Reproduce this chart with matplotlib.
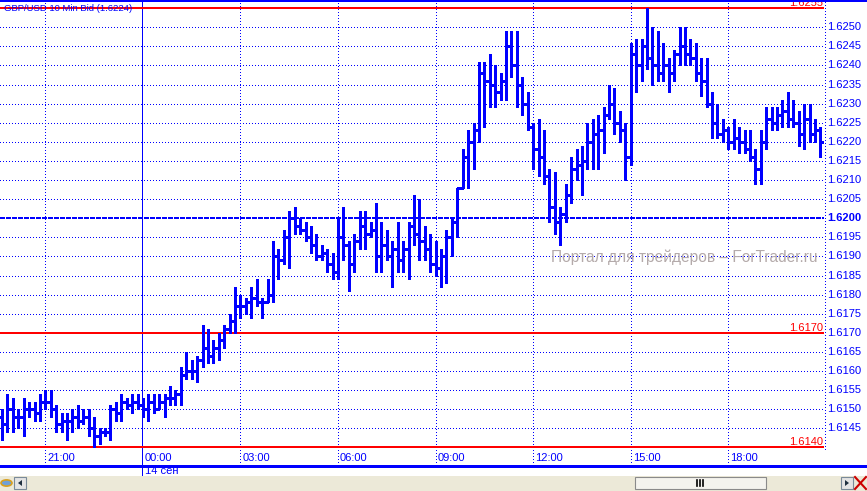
import matplotlib
matplotlib.use('Agg')
import matplotlib.pyplot as plt
from matplotlib.patches import Rectangle, Circle, Polygon
from matplotlib.lines import Line2D

W, H = 867, 491
BLUE = '#0000ff'
RED = '#ff0000'
FONT = 'Liberation Sans'

# GBP/USD, 10 min bars, first bar 19:40
highs = [1.6150, 1.6154, 1.6153, 1.6150, 1.6153, 1.6152, 1.6152, 1.6154, 1.6155, 1.6155,
         1.6151, 1.6149, 1.6149, 1.6150, 1.6151, 1.6150, 1.6150, 1.6148, 1.6145, 1.6145,
         1.6151, 1.6152, 1.6154, 1.6153, 1.6154, 1.6154, 1.6153, 1.6154, 1.6154, 1.6154,
         1.6154, 1.6156, 1.6155, 1.6161, 1.6165, 1.6163, 1.6164, 1.6172, 1.6171, 1.6168,
         1.6170, 1.6172, 1.6175, 1.6182, 1.6180, 1.6179, 1.6182, 1.6184, 1.6179, 1.6184,
         1.6194, 1.6192, 1.6197, 1.6202, 1.6203, 1.6200, 1.6199, 1.6198, 1.6196, 1.6193,
         1.6192, 1.6191, 1.6200, 1.6203, 1.6194, 1.6196, 1.6202, 1.6202, 1.6199, 1.6204,
         1.6199, 1.6197, 1.6194, 1.6199, 1.6194, 1.6199, 1.6206, 1.6205, 1.6198, 1.6196,
         1.6194, 1.6192, 1.6197, 1.6200, 1.6208, 1.6218, 1.6223, 1.6225, 1.6241, 1.6241,
         1.6243, 1.6240, 1.6238, 1.6249, 1.6249, 1.6249, 1.6237, 1.6233, 1.6225, 1.6226,
         1.6223, 1.6213, 1.6212, 1.6203, 1.6209, 1.6216, 1.6218, 1.6219, 1.6225, 1.6226,
         1.6227, 1.6229, 1.6235, 1.6234, 1.6228, 1.6225, 1.6246, 1.6247, 1.6247, 1.6255,
         1.6250, 1.6249, 1.6246, 1.6242, 1.6244, 1.6250, 1.6250, 1.6247, 1.6246, 1.6242,
         1.6242, 1.6233, 1.6230, 1.6226, 1.6224, 1.6226, 1.6224, 1.6223, 1.6223, 1.6218,
         1.6223, 1.6229, 1.6229, 1.6229, 1.6231, 1.6233, 1.6231, 1.6228, 1.6230, 1.6230,
         1.6226, 1.6224]
lows = [1.6142, 1.6144, 1.6144, 1.6145, 1.6143, 1.6148, 1.6147, 1.6147, 1.6150, 1.6148,
        1.6144, 1.6144, 1.6142, 1.6144, 1.6145, 1.6146, 1.6143, 1.6140, 1.6141, 1.6143,
        1.6142, 1.6147, 1.6147, 1.6150, 1.6149, 1.6150, 1.6148, 1.6147, 1.6149, 1.6150,
        1.6148, 1.6151, 1.6151, 1.6151, 1.6158, 1.6158, 1.6157, 1.6161, 1.6162, 1.6162,
        1.6163, 1.6166, 1.6170, 1.6170, 1.6174, 1.6175, 1.6174, 1.6177, 1.6174, 1.6178,
        1.6178, 1.6184, 1.6188, 1.6187, 1.6196, 1.6196, 1.6194, 1.6191, 1.6189, 1.6189,
        1.6186, 1.6184, 1.6184, 1.6189, 1.6181, 1.6186, 1.6192, 1.6192, 1.6195, 1.6186,
        1.6186, 1.6189, 1.6182, 1.6186, 1.6186, 1.6184, 1.6193, 1.6189, 1.6189, 1.6186,
        1.6185, 1.6182, 1.6183, 1.6190, 1.6195, 1.6208, 1.6208, 1.6213, 1.6220, 1.6224,
        1.6229, 1.6229, 1.6231, 1.6231, 1.6237, 1.6229, 1.6227, 1.6223, 1.6213, 1.6211,
        1.6209, 1.6199, 1.6196, 1.6193, 1.6199, 1.6204, 1.6210, 1.6206, 1.6213, 1.6213,
        1.6213, 1.6217, 1.6226, 1.6222, 1.6220, 1.6210, 1.6214, 1.6233, 1.6236, 1.6239,
        1.6235, 1.6236, 1.6236, 1.6233, 1.6236, 1.6240, 1.6240, 1.6240, 1.6236, 1.6232,
        1.6229, 1.6221, 1.6221, 1.6220, 1.6218, 1.6218, 1.6217, 1.6217, 1.6215, 1.6209,
        1.6209, 1.6218, 1.6223, 1.6223, 1.6224, 1.6224, 1.6224, 1.6219, 1.6218, 1.6220,
        1.6220, 1.6216]
opens = [1.6148, 1.6146, 1.6150, 1.6148, 1.6148, 1.6150, 1.6150, 1.6149, 1.6152, 1.6152,
         1.6150, 1.6146, 1.6147, 1.6147, 1.6148, 1.6147, 1.6148, 1.6145, 1.6143, 1.6144,
         1.6144, 1.6150, 1.6149, 1.6152, 1.6151, 1.6152, 1.6151, 1.6150, 1.6152, 1.6150,
         1.6152, 1.6153, 1.6153, 1.6154, 1.6159, 1.6160, 1.6160, 1.6163, 1.6166, 1.6164,
         1.6166, 1.6168, 1.6171, 1.6173, 1.6177, 1.6177, 1.6178, 1.6179, 1.6178, 1.6178,
         1.6180, 1.6190, 1.6189, 1.6195, 1.6200, 1.6198, 1.6197, 1.6195, 1.6193, 1.6190,
         1.6191, 1.6188, 1.6186, 1.6195, 1.6193, 1.6188, 1.6194, 1.6198, 1.6196, 1.6197,
         1.6190, 1.6193, 1.6190, 1.6192, 1.6189, 1.6192, 1.6198, 1.6196, 1.6194, 1.6192,
         1.6188, 1.6187, 1.6190, 1.6195, 1.6199, 1.6208, 1.6216, 1.6220, 1.6223, 1.6238,
         1.6236, 1.6235, 1.6233, 1.6236, 1.6245, 1.6240, 1.6235, 1.6230, 1.6224, 1.6218,
         1.6216, 1.6211, 1.6203, 1.6199, 1.6201, 1.6206, 1.6213, 1.6214, 1.6215, 1.6220,
         1.6222, 1.6223, 1.6227, 1.6230, 1.6225, 1.6223, 1.6216, 1.6243, 1.6240, 1.6245,
         1.6242, 1.6240, 1.6238, 1.6240, 1.6238, 1.6243, 1.6245, 1.6243, 1.6242, 1.6238,
         1.6236, 1.6230, 1.6225, 1.6222, 1.6223, 1.6220, 1.6221, 1.6220, 1.6218, 1.6216,
         1.6213, 1.6220, 1.6226, 1.6225, 1.6227, 1.6228, 1.6226, 1.6225, 1.6222, 1.6226,
         1.6222, 1.6223]
closes = [1.6146, 1.6150, 1.6148, 1.6148, 1.6150, 1.6150, 1.6149, 1.6152, 1.6152, 1.6150,
          1.6146, 1.6147, 1.6147, 1.6148, 1.6147, 1.6148, 1.6145, 1.6143, 1.6144, 1.6144,
          1.6150, 1.6149, 1.6152, 1.6151, 1.6152, 1.6151, 1.6150, 1.6152, 1.6150, 1.6152,
          1.6153, 1.6153, 1.6154, 1.6159, 1.6160, 1.6160, 1.6163, 1.6166, 1.6164, 1.6166,
          1.6168, 1.6171, 1.6173, 1.6177, 1.6177, 1.6178, 1.6179, 1.6178, 1.6178, 1.6180,
          1.6190, 1.6189, 1.6195, 1.6200, 1.6198, 1.6197, 1.6195, 1.6193, 1.6190, 1.6191,
          1.6188, 1.6186, 1.6195, 1.6193, 1.6188, 1.6194, 1.6198, 1.6196, 1.6197, 1.6190,
          1.6193, 1.6190, 1.6192, 1.6189, 1.6192, 1.6198, 1.6196, 1.6194, 1.6192, 1.6188,
          1.6187, 1.6190, 1.6195, 1.6199, 1.6208, 1.6216, 1.6220, 1.6223, 1.6238, 1.6236,
          1.6235, 1.6233, 1.6236, 1.6245, 1.6240, 1.6235, 1.6230, 1.6224, 1.6218, 1.6216,
          1.6211, 1.6203, 1.6199, 1.6201, 1.6206, 1.6213, 1.6214, 1.6215, 1.6220, 1.6222,
          1.6223, 1.6227, 1.6230, 1.6225, 1.6223, 1.6216, 1.6243, 1.6240, 1.6245, 1.6242,
          1.6240, 1.6238, 1.6240, 1.6238, 1.6243, 1.6245, 1.6243, 1.6242, 1.6238, 1.6236,
          1.6230, 1.6225, 1.6222, 1.6223, 1.6220, 1.6221, 1.6220, 1.6218, 1.6216, 1.6213,
          1.6220, 1.6226, 1.6225, 1.6227, 1.6228, 1.6226, 1.6225, 1.6222, 1.6226, 1.6222,
          1.6223, 1.6220]

time_labels = ['21:00', '00:00', '03:00', '06:00', '09:00', '12:00', '15:00', '18:00']
time_bars = [8, 26, 44, 62, 80, 98, 116, 134]
day_bar = 26
day_label = '14 сен'

price_labels = ['1.6145', '1.6150', '1.6155', '1.6160', '1.6165', '1.6170', '1.6175',
                '1.6180', '1.6185', '1.6190', '1.6195', '1.6200', '1.6205', '1.6210',
                '1.6215', '1.6220', '1.6225', '1.6230', '1.6235', '1.6240', '1.6245',
                '1.6250']
red_levels = [1.6255, 1.6170, 1.6140]
mid_level = 1.6200
title = 'GBP/USD 10 Min Bid (1.6224)'
watermark = 'Портал для трейдеров – ForTrader.ru'

# layout in pixels
ax_left, ax_right, ax_top, ax_bot = 0, 824, 2, 465
bar_px = 5.42
first_px = 2
y_top_price, y_bot_price = 1.625662, 1.613539

fig = plt.figure(figsize=(W / 100, H / 100), dpi=100)
fig.patch.set_facecolor('white')
ax = fig.add_axes([ax_left / W, 1 - ax_bot / H, (ax_right - ax_left) / W, (ax_bot - ax_top) / H])
ax.set_xlim(-first_px / bar_px, (ax_right - first_px) / bar_px)
ax.set_ylim(y_bot_price, y_top_price)
ax.axis('off')

dot = (0, (1, 2.2))

# horizontal grid
for lab in price_labels:
    p = float(lab)
    if abs(p - mid_level) < 1e-6 or any(abs(p - r) < 1e-6 for r in red_levels):
        continue
    ax.axhline(p, color=BLUE, lw=0.72, ls=dot, antialiased=False, zorder=1)
# vertical grid
gb = (ax_bot - 462) / (ax_bot - ax_top)
for b in time_bars:
    if b == day_bar:
        continue
    ax.axvline(b, ymin=gb, ymax=1, color=BLUE, lw=0.72, ls=dot, antialiased=False, zorder=1)
# day separator
ax.axvline(day_bar - 0.1, ymin=-(476 - ax_bot) / (ax_bot - ax_top), ymax=1, color=BLUE, lw=0.72,
           antialiased=False, clip_on=False, zorder=1)

ax.axhline(mid_level, color=BLUE, lw=1.44, ls=(0, (2.5, 1)), antialiased=False, zorder=2)
for r in red_levels:
    ax.axhline(r, color=RED, lw=1.44, antialiased=False, zorder=2)
    ax.text(1.0 - 1 / 824, r, f'{r:.4f}', transform=ax.get_yaxis_transform(), ha='right',
            va='bottom', color=RED, fontsize=8, family=FONT, zorder=3)

# OHLC bars
xs = list(range(len(highs)))
tick = 3.3 / bar_px
ax.vlines(xs, lows, highs, color=BLUE, lw=2.0, antialiased=False, zorder=4)
ax.hlines(opens, [x - tick for x in xs], xs, color=BLUE, lw=1.8, antialiased=False, zorder=4)
ax.hlines(closes, xs, [x + tick for x in xs], color=BLUE, lw=1.8, antialiased=False, zorder=4)

# time labels
for b, lab in zip(time_bars, time_labels):
    ax.text(b + 0.35, (ax_bot - 458) / (ax_bot - ax_top), lab, transform=ax.get_xaxis_transform(),
            ha='left', va='center', color=BLUE, fontsize=8, family=FONT, zorder=3)
fig.text(145 / W, 1 - 471 / H, day_label, ha='left', va='center', color=BLUE, fontsize=8,
         family=FONT)

ax.text(4 / 824, 1 - (8 - ax_top) / (ax_bot - ax_top), title, transform=ax.transAxes,
        ha='left', va='center', color=BLUE, fontsize=6.8, family=FONT, zorder=5)

# price scale
fig.add_artist(Line2D([824.5 / W] * 2, [1 - 2 / H, 1 - 450 / H], color=BLUE, lw=0.72,
                      ls=dot, antialiased=False))
for lab in price_labels:
    p = float(lab)
    ypx = ax_top + (y_top_price - p) / (y_top_price - y_bot_price) * (ax_bot - ax_top)
    fig.text(827 / W, 1 - ypx / H, lab, ha='left', va='center', color=BLUE, fontsize=8,
             family=FONT, fontweight='bold' if abs(p - mid_level) < 1e-6 else 'normal')

# frame lines
fig.add_artist(Line2D([0, 1], [1 - 1 / H] * 2, color=BLUE, lw=1.44, antialiased=False))
fig.add_artist(Line2D([0, 1], [1 - 465.5 / H] * 2, color=BLUE, lw=0.9, antialiased=False))

# watermark
fig.text(551 / W, 1 - 257 / H, watermark, ha='left', va='center', color='#b4aaaa',
         fontsize=11.2, family=FONT, zorder=10)

# scroll bar strip
def fr(x0, y0, x1, y1, **kw):
    return Rectangle((x0 / W, 1 - y1 / H), (x1 - x0) / W, (y1 - y0) / H,
                     transform=fig.transFigure, **kw)

fig.add_artist(fr(0, 476, W, H, facecolor='#ece9d8', edgecolor='none'))
fig.add_artist(fr(635, 477, 766, 489, facecolor='#f4f3ee', edgecolor='#8a8a8a', lw=0.8))
for gx in (697, 700, 703):
    fig.add_artist(Line2D([gx / W] * 2, [1 - 480 / H, 1 - 486 / H], color='black', lw=1.2))
fig.add_artist(fr(841, 477, 853, 489, facecolor='#e4e4e4', edgecolor='#7a8a99', lw=0.8))
fig.add_artist(Polygon([(845 / W, 1 - 480 / H), (845 / W, 1 - 486 / H), (849 / W, 1 - 483 / H)],
                       closed=True, transform=fig.transFigure, facecolor='#1f2f3f'))
fig.add_artist(Line2D([855 / W, 866 / W], [1 - 477 / H, 1 - 489 / H], color='#cc0000', lw=1.5))
fig.add_artist(Line2D([855 / W, 866 / W], [1 - 489 / H, 1 - 477 / H], color='#cc0000', lw=1.5))
fig.add_artist(fr(14, 477, 26, 489, facecolor='#e4e4e4', edgecolor='#7a8a99', lw=0.8))
fig.add_artist(Polygon([(22 / W, 1 - 480 / H), (22 / W, 1 - 486 / H), (18 / W, 1 - 483 / H)],
                       closed=True, transform=fig.transFigure, facecolor='#1f2f3f'))
fig.add_artist(Circle((6.5 / W, 1 - 483 / H), 5.5 / W, transform=fig.transFigure,
                      facecolor='#6fa0d8', edgecolor='#d8a020', lw=1.2))

fig.savefig('out.png', dpi=100, facecolor='white')
